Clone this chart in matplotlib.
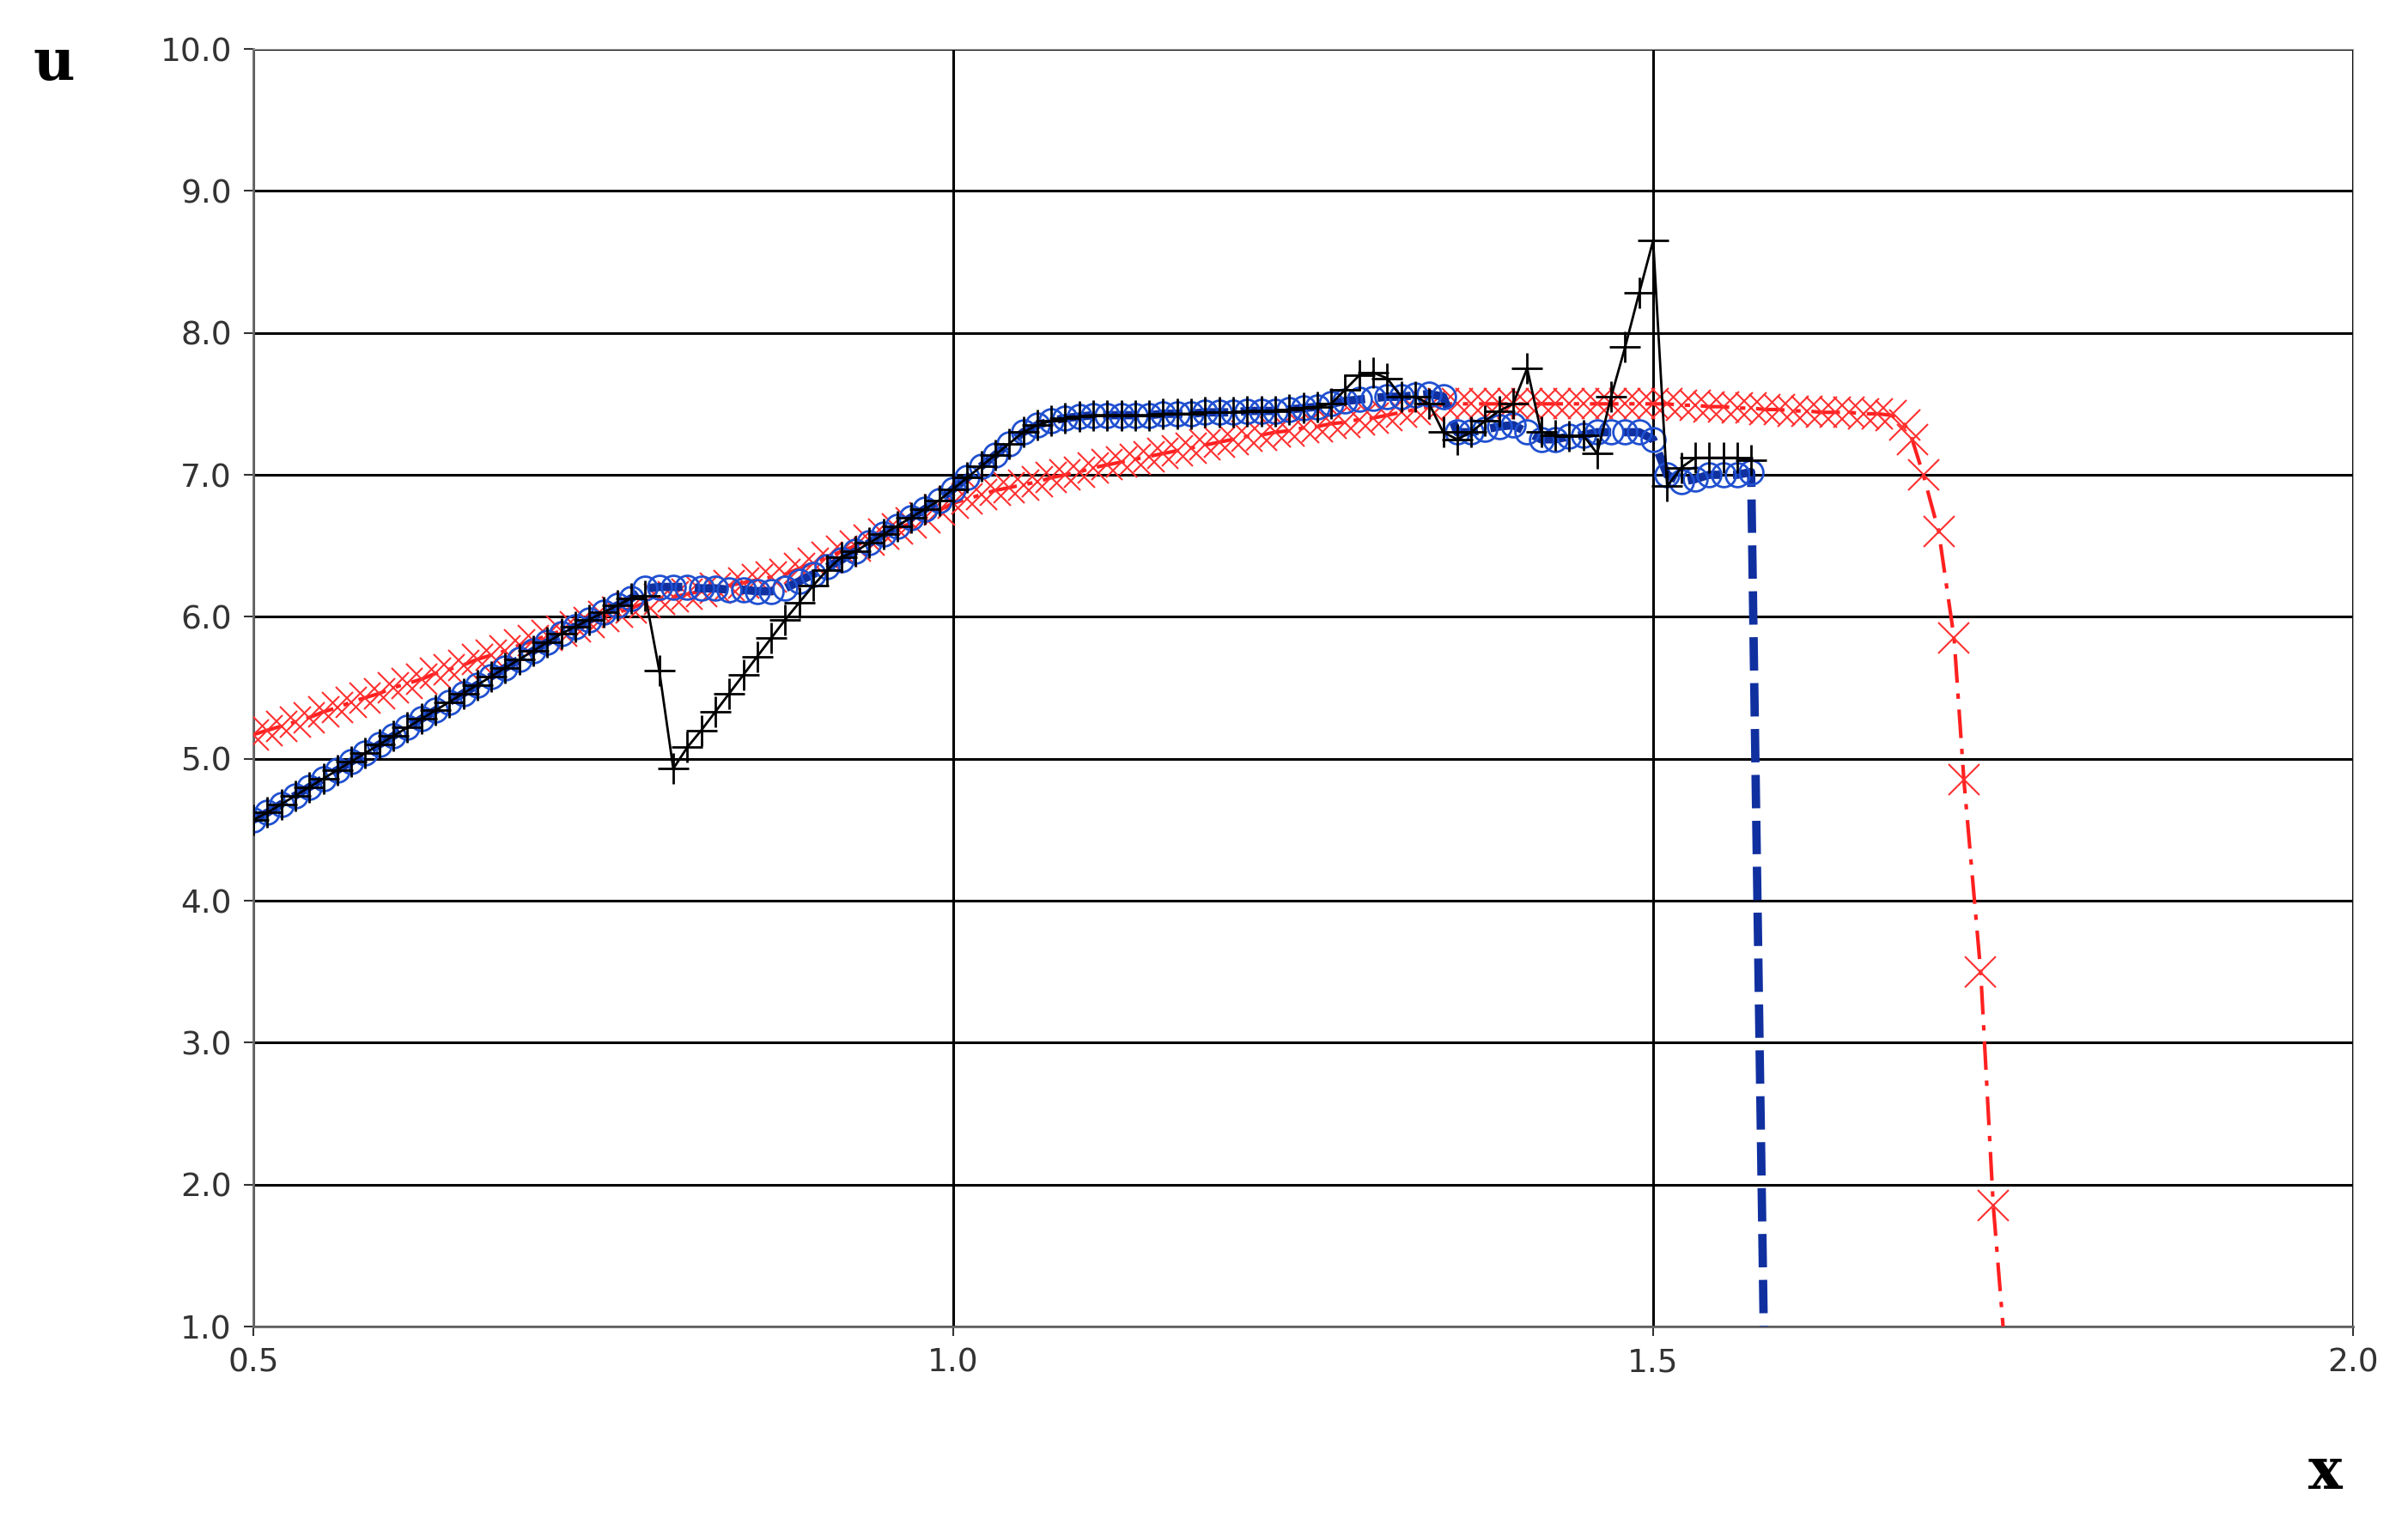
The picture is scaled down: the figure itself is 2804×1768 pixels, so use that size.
import numpy as np
import matplotlib
matplotlib.use("Agg")
import matplotlib.pyplot as plt

x_blue = np.round(np.arange(0.50, 1.575, 0.01), 2)
u_blue = [4.57,4.62,4.68,4.74,4.80,4.86,4.92,4.98,5.04,5.10,
          5.16,5.22,5.28,5.34,5.40,5.46,5.52,5.58,5.64,5.70,
          5.76,5.82,5.88,5.93,5.98,6.03,6.08,6.13,6.20,6.21,
          6.21,6.21,6.20,6.20,6.19,6.19,6.18,6.18,6.20,6.25,
          6.30,6.35,6.40,6.46,6.52,6.58,6.64,6.70,6.76,6.82,
          6.90,6.98,7.06,7.14,7.22,7.30,7.35,7.38,7.40,7.41,
          7.42,7.42,7.42,7.42,7.42,7.43,7.43,7.43,7.44,7.44,
          7.44,7.45,7.45,7.45,7.46,7.47,7.48,7.50,7.52,7.53,
          7.54,7.55,7.55,7.56,7.57,7.55,7.30,7.30,7.32,7.34,
          7.35,7.30,7.25,7.25,7.27,7.28,7.30,7.30,7.30,7.30,
          7.25,7.00,6.95,6.97,7.00,7.00,7.00,7.02]
x_blue_end = [1.579]
u_blue_end = [1.0]

x_black = np.round(np.arange(0.50, 1.575, 0.01), 2)
u_black = [4.57,4.62,4.68,4.74,4.80,4.86,4.92,4.98,5.04,5.10,
           5.16,5.22,5.28,5.34,5.40,5.46,5.52,5.58,5.64,5.70,
           5.76,5.82,5.88,5.93,5.98,6.03,6.08,6.13,6.15,5.62,
           4.93,5.08,5.20,5.33,5.46,5.59,5.72,5.85,5.98,6.10,
           6.22,6.33,6.42,6.46,6.52,6.58,6.64,6.70,6.76,6.82,
           6.90,6.98,7.06,7.14,7.22,7.30,7.35,7.38,7.40,7.41,
           7.42,7.42,7.42,7.42,7.42,7.43,7.43,7.43,7.44,7.44,
           7.44,7.45,7.45,7.45,7.46,7.47,7.48,7.50,7.60,7.70,
           7.72,7.68,7.55,7.55,7.50,7.30,7.25,7.30,7.38,7.45,
           7.50,7.75,7.30,7.28,7.27,7.28,7.15,7.55,7.90,8.28,
           8.65,6.92,7.05,7.12,7.12,7.12,7.12,7.10]

x_red = np.round(np.arange(0.50, 1.685, 0.01), 2)
u_red = [5.17,5.20,5.23,5.26,5.29,5.33,5.36,5.40,5.43,5.46,
         5.50,5.53,5.56,5.60,5.63,5.66,5.70,5.73,5.76,5.80,
         5.83,5.87,5.90,5.93,5.96,6.00,6.03,6.06,6.10,6.12,
         6.14,6.16,6.18,6.20,6.22,6.24,6.26,6.28,6.30,6.34,
         6.38,6.42,6.46,6.50,6.54,6.58,6.62,6.66,6.70,6.75,
         6.80,6.83,6.86,6.89,6.91,6.93,6.95,6.98,7.00,7.02,
         7.05,7.07,7.09,7.11,7.13,7.15,7.17,7.19,7.21,7.23,
         7.25,7.27,7.28,7.30,7.31,7.33,7.34,7.36,7.37,7.39,
         7.40,7.42,7.44,7.46,7.48,7.50,7.50,7.50,7.50,7.50,
         7.50,7.50,7.50,7.50,7.50,7.50,7.50,7.50,7.50,7.50,
         7.50,7.50,7.49,7.49,7.48,7.48,7.47,7.47,7.46,7.46,
         7.45,7.45,7.44,7.44,7.44,7.43,7.43,7.42,7.35]
x_red_tail = [1.685, 1.693, 1.704, 1.715, 1.722, 1.734, 1.743]
u_red_tail = [7.25, 7.00, 6.60, 5.85, 4.85, 3.50, 1.85]
x_red_end = [1.750]
u_red_end = [1.0]

fig = plt.figure(figsize=(28.04, 17.68), dpi=100)
ax = fig.add_axes([295/2804, 1-1545/1768, (2740-295)/2804, (1545-57)/1768])

xr = np.concatenate([x_red, x_red_tail, x_red_end])
ur = np.concatenate([u_red, u_red_tail, u_red_end])
ax.plot(xr, ur, color="#ff2020", lw=3, ls=(0, (8, 3, 1.5, 3)), zorder=3)
ax.plot(np.concatenate([x_red, x_red_tail]), np.concatenate([u_red, u_red_tail]),
        ls="none", marker="x", ms=26, mew=1.5, color="#ff3030", zorder=3)

ax.plot(np.concatenate([x_blue, x_blue_end]), np.concatenate([u_blue, u_blue_end]),
        color="#1030a0", lw=7, ls=(0, (4, 1.5)), zorder=4)
ax.plot(x_blue, u_blue, ls="none", marker="o", ms=20, mfc="none", mec="#2050d0", mew=2, zorder=4)

ax.plot(x_black, u_black, color="black", lw=2, marker="+", ms=26, mew=2, zorder=5)

ax.set_xlim(0.5, 2.0)
ax.set_ylim(1.0, 10.0)
ax.set_xticks([0.5, 1.0, 1.5, 2.0])
ax.set_yticks(np.arange(1.0, 10.01, 1.0))
ax.xaxis.set_major_formatter(matplotlib.ticker.FormatStrFormatter("%.1f"))
ax.yaxis.set_major_formatter(matplotlib.ticker.FormatStrFormatter("%.1f"))
ax.grid(True, color="black", lw=2.2)
ax.tick_params(labelsize=27, colors="#333333", length=8, width=1.5, pad=10)
for s in ["top", "right"]:
    ax.spines[s].set_color("#aaaaaa")
for s in ["left", "bottom"]:
    ax.spines[s].set_color("#666666")
    ax.spines[s].set_linewidth(2)

fig.text(38/2804, 1-75/1768, "u", fontsize=48, fontweight="bold", family="DejaVu Serif", va="center")
fig.text(2688/2804, 1-1715/1768, "x", fontsize=48, fontweight="bold", family="DejaVu Serif", va="center")

fig.savefig("out.png", dpi=100, facecolor="white")
